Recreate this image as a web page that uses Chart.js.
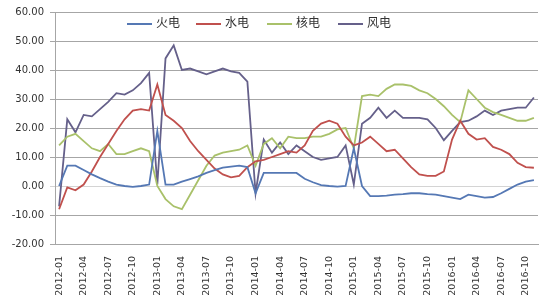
<!DOCTYPE html>
<html>
<head>
<meta charset="utf-8">
<script src="https://cdn.jsdelivr.net/npm/chart.js@4.4.0/dist/chart.umd.min.js"></script>
<style>
  body { margin: 0; background: #fff; }
  #wrap { position: relative; width: 550px; height: 300px; }
  .lg { position: absolute; top: 14px; font: 12px "Noto Sans CJK SC", sans-serif; color: #333; line-height: 16px; }
  .lg i { display: inline-block; width: 25px; height: 2px; vertical-align: middle; margin-right: 4px; }
</style>
</head>
<body>
<div id="wrap">
  <canvas id="userChart" width="550" height="300"></canvas>
  <div class="lg" style="left:127px"><i style="background:#5578b4"></i>火电</div>
  <div class="lg" style="left:196px"><i style="background:#c0504d"></i>水电</div>
  <div class="lg" style="left:267px"><i style="background:#a9c16a"></i>核电</div>
  <div class="lg" style="left:338px"><i style="background:#65608a"></i>风电</div>
</div>
<script>
let months = ['2012-01','2012-02','2012-03','2012-04','2012-05','2012-06','2012-07','2012-08','2012-09','2012-10','2012-11','2012-12',
    '2013-01','2013-02','2013-03','2013-04','2013-05','2013-06','2013-07','2013-08','2013-09','2013-10','2013-11','2013-12',
    '2014-01','2014-02','2014-03','2014-04','2014-05','2014-06','2014-07','2014-08','2014-09','2014-10','2014-11','2014-12',
    '2015-01','2015-02','2015-03','2015-04','2015-05','2015-06','2015-07','2015-08','2015-09','2015-10','2015-11','2015-12',
    '2016-01','2016-02','2016-03','2016-04','2016-05','2016-06','2016-07','2016-08','2016-09','2016-10','2016-11'];

// 火电
let huoDian = [0, 7, 7, 5.5, 4, 2.7, 1.5, 0.5, 0, -0.3, 0, 0.5,
    19, 0.5, 0.5, 1.5, 2.4, 3.3, 4.5, 5.5, 6.3, 6.7, 7, 6.5,
    -2.5, 4.5, 4.5, 4.5, 4.5, 4.5, 2.5, 1.3, 0.3, 0, -0.2, 0,
    13, 0, -3.5, -3.5, -3.3, -3, -2.8, -2.5, -2.5, -2.8, -3, -3.5,
    -4, -4.5, -3, -3.5, -4, -3.8, -2.5, -1, 0.5, 1.5, 2];
// 水电
let shuiDian = [-8, -0.5, -1.5, 0.5, 5, 10, 14.5, 19, 23, 26, 26.5, 26,
    35, 24.5, 22.5, 20, 15.5, 12, 9, 6, 4, 3, 3.5, 6.5,
    8.5, 9, 10, 11, 12, 11.5, 14, 19, 21.5, 22.5, 21.5, 17,
    14, 15, 17, 14.5, 12, 12.5, 9.5, 6.5, 4, 3.5, 3.5, 5,
    16, 22.5, 18, 16, 16.5, 13.5, 12.5, 11, 8, 6.5, 6.3];
// 核电
let heDian = [14, 17, 18, 15.5, 13, 12, 14.5, 11, 11, 12, 13, 12,
    0, -4.5, -7, -8, -3, 2, 7, 10.5, 11.5, 12, 12.5, 14,
    7, 14.5, 16.5, 13, 17, 16.5, 16.5, 17, 17, 18, 19.5, 20,
    13, 31, 31.5, 31, 33.5, 35, 35, 34.5, 33, 32, 30, 27.5,
    24.5, 22, 33, 30, 27, 25.5, 24.5, 23.5, 22.5, 22.5, 23.5];
// 风电
let fengDian = [-7, 23, 18.5, 24.5, 24, 26.5, 29, 32, 31.5, 33, 35.5, 39,
    0.5, 44, 48.5, 40, 40.5, 39.5, 38.5, 39.5, 40.5, 39.5, 39, 36,
    -2.5, 16, 11.5, 15, 11, 14, 12, 10, 9, 9.5, 10, 14,
    0.5, 21.5, 23.5, 27, 23.5, 26, 23.5, 23.5, 23.5, 23, 20, 15.8,
    19, 22, 22.5, 24, 26, 24.5, 26, 26.5, 27, 27, 30.5];

let gridGray = '#a6a6a6';
let tickFont = { family: 'DejaVu Sans', size: 10 };

function line(label, color, values) {
    return {
        label: label,
        borderColor: color,
        backgroundColor: color,
        borderWidth: 1.8,
        pointRadius: 0,
        tension: 0,
        data: values,
    };
}

let ctx = document.getElementById('userChart').getContext('2d');
let chart = new Chart(ctx, {
    type: 'line',
    data: {
        labels: months,
        datasets: [
            line('火电', '#5578b4', huoDian),
            line('水电', '#c0504d', shuiDian),
            line('核电', '#a9c16a', heDian),
            line('风电', '#65608a', fengDian),
        ]
    },
    options: {
        responsive: false,
        animation: false,
        layout: { padding: { top: 6, right: 12, left: 0, bottom: 0 } },
        plugins: {
            legend: { display: false },
            tooltip: { enabled: false },
        },
        scales: {
            x: {
                offset: true,
                grid: { display: false },
                border: { color: gridGray },
                ticks: {
                    autoSkip: false,
                    maxRotation: 90,
                    minRotation: 90,
                    padding: 4,
                    color: '#333',
                    font: { family: 'DejaVu Sans', size: 9.5 },
                    callback: (v, i) => i % 3 === 0 ? months[i] : '',
                },
                afterFit: s => { s.height = 56; },
            },
            y: {
                min: -20,
                max: 60,
                grid: {
                    color: c => c.tick && c.tick.value === 0 ? '#d4d4d4' : gridGray,
                    tickLength: 5,
                },
                border: { color: gridGray },
                ticks: {
                    stepSize: 10,
                    padding: 6,
                    color: '#333',
                    font: tickFont,
                    callback: v => v.toFixed(2),
                },
                afterFit: s => { s.width = 55; },
            },
        },
    },
});
</script>
</body>
</html>
